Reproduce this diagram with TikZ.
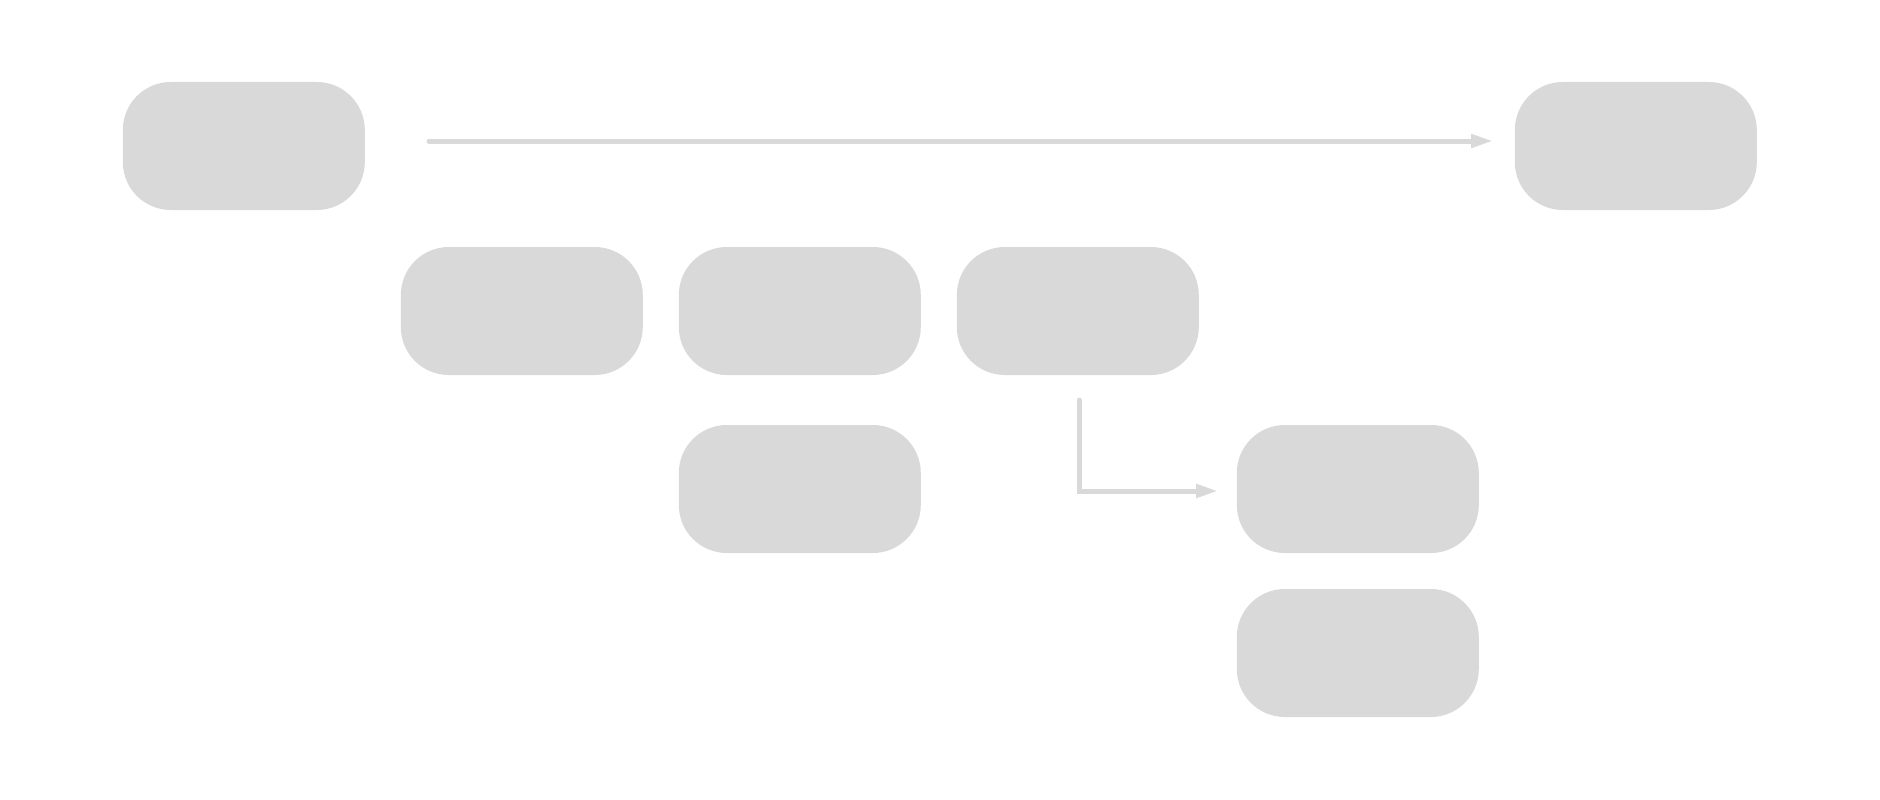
\documentclass[tikz,border=0pt]{standalone}
\usetikzlibrary{arrows.meta}

\definecolor{boxgray}{HTML}{D9D9D9}

\begin{document}
\begin{tikzpicture}[x=1pt, y=-1pt,
every node/.style={%draw,
    inner sep =0pt, minimum width=242pt, minimum height=128pt
    },
box/.style={fill=boxgray},
flow/.style={draw=boxgray, line width=5pt, line cap=round,
    -{Triangle[length=22pt,width=13pt]}}
]
\useasboundingbox (0,0) rectangle (1880,800);

\foreach \n/\x/\y in {a/244/146, b/1636/146,%
                      c/522/311, d/800/311, e/1078/311,%
                      f/800/489, g/1358/489, h/1358/653%
            }{
    \node (\n) at (\x,\y) {};
    \fill [box] (\n.west) ++(0,-16)
        .. controls +(0,-26.5) and +(-26.5,0) .. ++(48,-48) -- ++(146,0)
        .. controls +(26.5,0) and +(0,-26.5) .. ++(48,48) -- ++(0,32)
        .. controls +(0,26.5) and +(26.5,0) .. ++(-48,48) -- ++(-146,0)
        .. controls +(-26.5,0) and +(0,26.5) .. ++(-48,-48) -- cycle;
}

\coordinate (s1) at (429,141);
\coordinate (t1) at (1493,141);
\coordinate (s2) at (1079,400);
\coordinate (t2) at (1218,491);

\draw [flow] (s1) -- (t1);
\draw [flow] (s2) |- (t2);

\end{tikzpicture}
\end{document}
